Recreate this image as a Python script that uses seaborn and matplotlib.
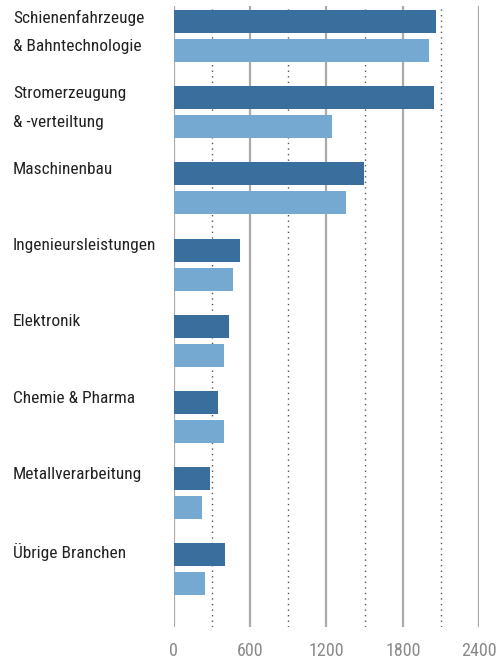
import matplotlib
matplotlib.use("Agg")
import matplotlib.pyplot as plt
import matplotlib.transforms as mtransforms
from matplotlib import font_manager
from matplotlib.ticker import FixedLocator
import seaborn as sns
import pandas as pd

categories = [
    "Schienenfahrzeuge\n& Bahntechnologie",
    "Stromerzeugung\n& -verteiltung",
    "Maschinenbau",
    "Ingenieursleistungen",
    "Elektronik",
    "Chemie & Pharma",
    "Metallverarbeitung",
    "Übrige Branchen",
]
series_names = ["Serie 1", "Serie 2"]
values_1 = [2060, 2045, 1495, 522, 435, 349, 286, 404]
values_2 = [2005, 1244, 1354, 467, 396, 396, 224, 247]
x_ticks = [0, 600, 1200, 1800, 2400]
x_minor = [300, 900, 1500, 2100]

dark = "#3a6e9c"
light = "#75a9d1"

sns.set_theme(style="white")
avail = {f.name for f in font_manager.fontManager.ttflist}
family = "DejaVu Sans"
for cand in ["Liberation Sans Narrow", "Roboto Condensed", "Open Sans Condensed", "Liberation Sans"]:
    if cand in avail:
        family = cand
        break
plt.rcParams["font.family"] = [family, "DejaVu Sans"]

rows = []
for c, v1, v2 in zip(categories, values_1, values_2):
    rows.append({"Branche": c, "Serie": series_names[0], "Wert": v1})
    rows.append({"Branche": c, "Serie": series_names[1], "Wert": v2})
df = pd.DataFrame(rows)

fig = plt.figure(figsize=(4.98, 6.64), dpi=100)
ax = fig.add_axes([173.5 / 498, 37 / 664, 305.8 / 498, 621 / 664])

sns.barplot(data=df, y="Branche", x="Wert", hue="Serie", orient="h",
            palette=[dark, light], width=0.761, gap=0.207, saturation=1,
            legend=False, ax=ax, zorder=3, linewidth=0, edgecolor="none")

ax.set_xlim(0, 2400)
ax.set_ylim(7.756, -0.394)
ax.set_xticks(x_ticks)
ax.set_xticklabels([str(t) for t in x_ticks])
ax.xaxis.set_minor_locator(FixedLocator(x_minor))
ax.set_axisbelow(True)
ax.grid(False)
ax.grid(axis="x", which="major", color="#aaaaaa", linewidth=1.6, linestyle="-", zorder=0)
ax.grid(axis="x", which="minor", color="#555555", linewidth=1.0, linestyle=(0, (1, 3)), zorder=0)
for s in ax.spines.values():
    s.set_visible(False)
ax.tick_params(axis="x", which="both", length=0, pad=11, labelsize=13, labelcolor="#8a8a8a")
ax.tick_params(axis="y", which="both", length=0, labelleft=False)
ax.set_xlabel("")
ax.set_ylabel("")

trans = mtransforms.blended_transform_factory(fig.transFigure, ax.transData)
half = 0.761 / 2
bar_h = 0.761 / 2 * (1 - 0.207)
for i, lab in enumerate(categories):
    lines = lab.split("\n")
    for j, line in enumerate(lines):
        slot_center = i - half / 2 + j * half
        top = slot_center - bar_h / 2
        ax.text(13 / 498, top - 0.005, line, transform=trans, ha="left", va="top",
                fontsize=12.5, color="#222222")

fig.savefig("out.png", dpi=100)
